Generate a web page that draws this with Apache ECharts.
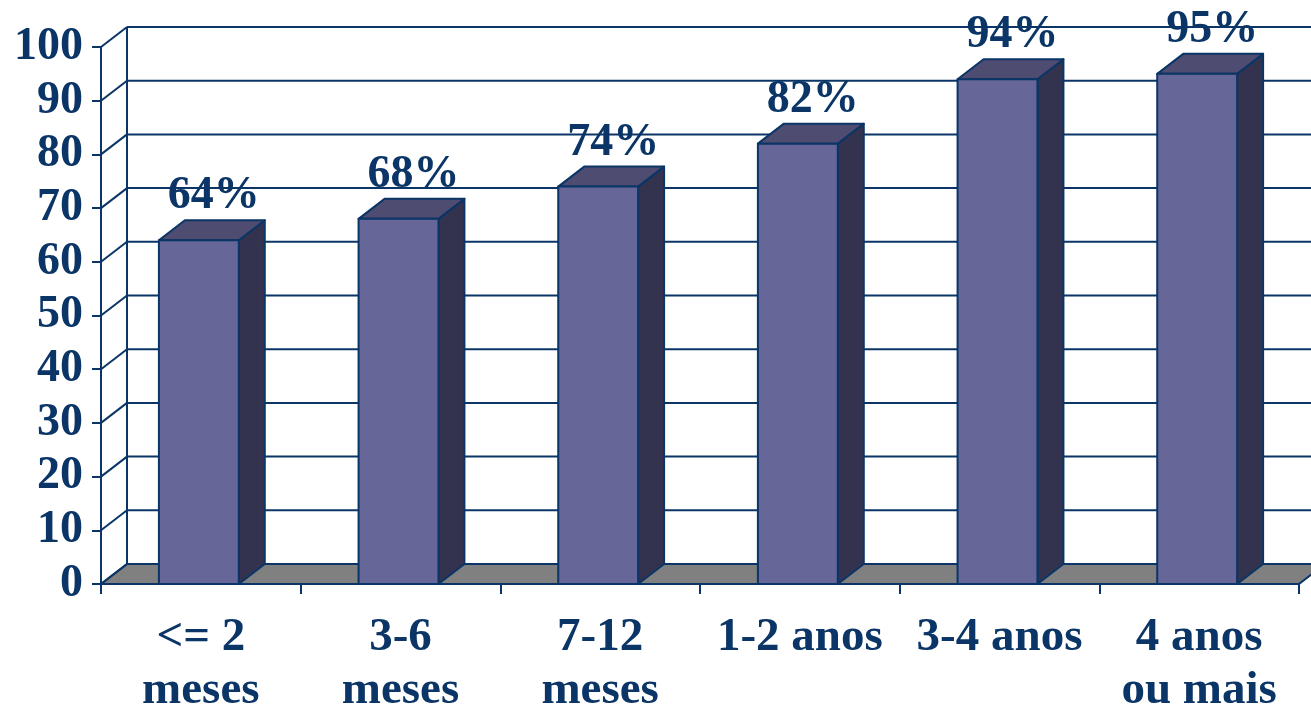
<!DOCTYPE html>
<html>
<head>
<meta charset="utf-8">
<script src="https://cdn.jsdelivr.net/npm/echarts@6/dist/echarts.min.js"></script>
<style>
html,body{margin:0;padding:0;background:#fff;}
#chart{width:1311px;height:717px;}
</style>
</head>
<body>
<div id="chart"></div>
<script>
var categories = ['<= 2\nmeses', '3-6\nmeses', '7-12\nmeses', '1-2 anos', '3-4 anos', '4 anos\nou mais'];
var values = [64, 68, 74, 82, 94, 95];
var yTicks = [0, 10, 20, 30, 40, 50, 60, 70, 80, 90, 100];

var NAVY = '#0a3566';
var FRONT = '#666699';
var TOP = '#4e4c70';
var SIDE = '#333350';
var FLOOR = '#808080';
var DX = 26, DY = 20;
var FONT = '"Liberation Serif", "Times New Roman", serif';

var chart = echarts.init(document.getElementById('chart'));

function renderFloor(params, api) {
  var cs = params.coordSys;
  var yb = api.coord([0, 0])[1];
  var yt = api.coord([0, 100])[1];
  return {
    type: 'group',
    children: [
      { type: 'polygon', shape: { points: [[cs.x, yb], [cs.x + cs.width, yb], [cs.x + cs.width + DX, yb - DY], [cs.x + DX, yb - DY]] },
        style: { fill: FLOOR, stroke: NAVY, lineWidth: 2 } },
      { type: 'line', shape: { x1: cs.x + DX, y1: yb - DY, x2: cs.x + DX, y2: yt - DY },
        style: { stroke: NAVY, lineWidth: 2 } }
    ]
  };
}

function renderWall(params, api) {
  var cs = params.coordSys;
  var y = api.coord([0, api.value(1)])[1];
  return {
    type: 'group',
    children: [
      { type: 'line', shape: { x1: cs.x, y1: y, x2: cs.x + DX, y2: y - DY }, style: { stroke: NAVY, lineWidth: 2 } },
      { type: 'line', shape: { x1: cs.x + DX, y1: y - DY, x2: cs.x + cs.width + DX, y2: y - DY }, style: { stroke: NAVY, lineWidth: 2 } }
    ]
  };
}

function barGeom(api) {
  var i = api.value(0), v = api.value(1);
  var top = api.coord([i, v]);
  var base = api.coord([i, 0]);
  var bw = api.size([1, 0])[0] * 0.4;
  var x0 = top[0] - bw * 0.525;
  return { v: v, x0: x0, x1: x0 + bw, yt: top[1], yb: base[1] };
}

function renderBar(params, api) {
  var g = barGeom(api);
  var x0 = g.x0, x1 = g.x1, yt = g.yt, yb = g.yb;
  var st = { stroke: NAVY, lineWidth: 2, lineJoin: 'round' };
  return {
    type: 'group',
    children: [
      { type: 'polygon', shape: { points: [[x1, yb], [x1 + DX, yb - DY], [x1 + DX, yt - DY], [x1, yt]] },
        style: Object.assign({ fill: SIDE }, st) },
      { type: 'polygon', shape: { points: [[x0, yt], [x0 + DX, yt - DY], [x1 + DX, yt - DY], [x1, yt]] },
        style: Object.assign({ fill: TOP }, st) },
      { type: 'rect', shape: { x: x0, y: yt, width: x1 - x0, height: yb - yt },
        style: Object.assign({ fill: FRONT }, st) }
    ]
  };
}

function renderLabel(params, api) {
  var g = barGeom(api);
  return {
    type: 'text', x: (g.x0 + g.x1 + DX) / 2 + 2, y: g.yt - DY - 24,
    style: { text: g.v + '%', fill: NAVY, font: 'bold 46px ' + FONT, align: 'center', verticalAlign: 'middle' }
  };
}

var option = {
  animation: false,
  backgroundColor: '#ffffff',
  grid: { left: 101, right: 12, top: 47, bottom: 130, containLabel: false },
  xAxis: {
    type: 'category',
    data: categories,
    z: 10,
    axisLine: { show: true, lineStyle: { color: NAVY, width: 2 } },
    axisTick: { show: true, length: 10, lineStyle: { color: NAVY, width: 2 } },
    axisLabel: { color: NAVY, fontFamily: FONT, fontWeight: 'bold', fontSize: 47, lineHeight: 53, margin: 27, interval: 0 },
    splitLine: { show: false }
  },
  yAxis: {
    type: 'value',
    min: 0, max: 100, interval: 10,
    z: 10,
    axisLine: { show: true, lineStyle: { color: NAVY, width: 2 } },
    axisTick: { show: true, length: 9, lineStyle: { color: NAVY, width: 2 } },
    axisLabel: { color: NAVY, fontFamily: FONT, fontWeight: 'bold', fontSize: 46, margin: 18 },
    splitLine: { show: false }
  },
  series: [
    { type: 'custom', z: 1, clip: false, silent: true, renderItem: renderFloor, data: [[0, 0]], encode: { x: 0, y: 1 } },
    { type: 'custom', z: 2, clip: false, silent: true, renderItem: renderLabel,
      data: values.map(function (v, i) { return [i, v]; }), encode: { x: 0, y: 1 } },
    { type: 'custom', z: 3, clip: false, silent: true, renderItem: renderWall,
      data: yTicks.map(function (t) { return [0, t]; }), encode: { x: 0, y: 1 } },
    { type: 'custom', z: 4, clip: false, renderItem: renderBar,
      data: values.map(function (v, i) { return [i, v]; }), encode: { x: 0, y: 1 } }
  ]
};
chart.setOption(option);
</script>
</body>
</html>
